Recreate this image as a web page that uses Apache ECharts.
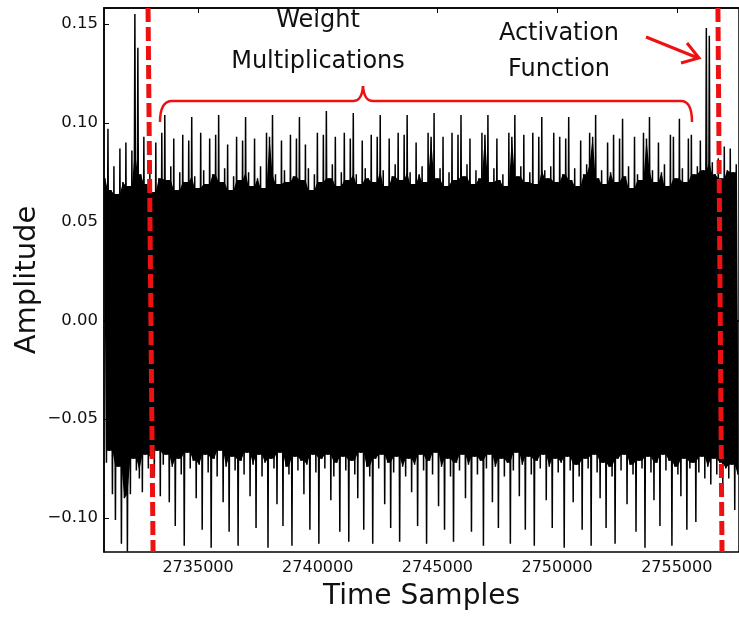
<!DOCTYPE html>
<html>
<head>
<meta charset="utf-8">
<script src="https://cdn.jsdelivr.net/npm/echarts@6/dist/echarts.min.js"></script>
<style>html,body{margin:0;padding:0;background:#fff;}#c{width:739px;height:617px;}</style>
</head>
<body>
<div id="c"></div>
<script>
// ---- data ----
// sampling grid of the envelope columns
const sampleStart = 2731110;
const sampleStep = 125;
// upper extreme of the trace in each column
const upperValues = [
0.072,0.097,0.066,0.078,0.064,0.087,0.070,0.090,0.068,0.086,
0.155,0.138,0.074,0.093,0.069,0.076,0.065,0.090,0.072,0.095,
0.104,0.071,0.078,0.092,0.066,0.075,0.094,0.070,0.091,0.103,
0.073,0.067,0.095,0.076,0.069,0.092,0.074,0.094,0.104,0.070,
0.077,0.089,0.066,0.073,0.093,0.071,0.091,0.103,0.075,0.068,
0.092,0.072,0.078,0.067,0.095,0.093,0.104,0.074,0.069,0.091,
0.076,0.070,0.094,0.073,0.092,0.103,0.071,0.089,0.077,0.066,
0.074,0.095,0.070,0.094,0.106,0.072,0.079,0.093,0.068,0.075,
0.095,0.071,0.092,0.105,0.074,0.069,0.091,0.077,0.072,0.094,
0.070,0.093,0.104,0.076,0.068,0.092,0.073,0.079,0.095,0.071,
0.094,0.104,0.075,0.069,0.090,0.074,0.078,0.070,0.095,0.093,
0.105,0.072,0.077,0.093,0.068,0.075,0.095,0.071,0.094,0.104,
0.073,0.079,0.092,0.069,0.076,0.072,0.095,0.094,0.104,0.070,
0.077,0.092,0.071,0.074,0.068,0.095,0.093,0.104,0.073,0.078,
0.094,0.070,0.075,0.095,0.069,0.093,0.103,0.076,0.072,0.078,
0.095,0.070,0.093,0.074,0.092,0.103,0.071,0.077,0.068,0.091,
0.074,0.079,0.095,0.093,0.104,0.072,0.076,0.069,0.090,0.075,
0.094,0.070,0.092,0.102,0.073,0.078,0.067,0.093,0.074,0.071,
0.095,0.092,0.103,0.076,0.070,0.090,0.075,0.079,0.068,0.094,
0.093,0.072,0.102,0.077,0.070,0.092,0.094,0.074,0.078,0.091,
0.076,0.148,0.144,0.080,0.074,0.082,0.072,0.088,0.076,0.087,
0.075,0.079
];
// lower extreme of the trace in each column
const lowerValues = [
-0.072,-0.066,-0.088,-0.101,-0.074,-0.113,-0.090,-0.117,-0.088,-0.070,
-0.076,-0.080,-0.087,-0.068,-0.075,-0.070,-0.079,-0.066,-0.089,-0.073,
-0.068,-0.092,-0.074,-0.104,-0.070,-0.078,-0.114,-0.067,-0.075,-0.071,
-0.090,-0.073,-0.106,-0.068,-0.077,-0.115,-0.070,-0.079,-0.066,-0.092,
-0.074,-0.107,-0.069,-0.076,-0.114,-0.071,-0.078,-0.067,-0.089,-0.073,
-0.105,-0.068,-0.079,-0.072,-0.115,-0.070,-0.075,-0.093,-0.067,-0.104,
-0.074,-0.078,-0.114,-0.069,-0.076,-0.071,-0.088,-0.073,-0.106,-0.068,
-0.077,-0.113,-0.070,-0.075,-0.068,-0.091,-0.079,-0.072,-0.107,-0.069,
-0.076,-0.112,-0.071,-0.078,-0.090,-0.067,-0.106,-0.074,-0.079,-0.113,
-0.070,-0.075,-0.068,-0.093,-0.072,-0.105,-0.077,-0.069,-0.112,-0.074,
-0.079,-0.070,-0.087,-0.073,-0.104,-0.068,-0.076,-0.113,-0.071,-0.078,
-0.067,-0.094,-0.074,-0.106,-0.070,-0.079,-0.112,-0.072,-0.076,-0.068,
-0.090,-0.073,-0.107,-0.069,-0.078,-0.071,-0.114,-0.075,-0.068,-0.092,
-0.074,-0.105,-0.070,-0.079,-0.072,-0.113,-0.076,-0.067,-0.089,-0.073,
-0.106,-0.069,-0.078,-0.114,-0.071,-0.075,-0.068,-0.091,-0.074,-0.105,
-0.070,-0.077,-0.072,-0.115,-0.069,-0.076,-0.092,-0.073,-0.079,-0.106,
-0.070,-0.075,-0.114,-0.068,-0.077,-0.090,-0.072,-0.105,-0.074,-0.079,
-0.113,-0.070,-0.076,-0.068,-0.093,-0.073,-0.078,-0.107,-0.071,-0.075,
-0.115,-0.069,-0.077,-0.091,-0.072,-0.104,-0.068,-0.076,-0.071,-0.114,
-0.074,-0.078,-0.089,-0.070,-0.106,-0.075,-0.072,-0.102,-0.077,-0.069,
-0.080,-0.074,-0.083,-0.070,-0.078,-0.072,-0.086,-0.075,-0.080,-0.073,
-0.096,-0.078
];
// tick labels
const xTicks = [2735000, 2740000, 2745000, 2750000, 2755000];
const yTicks = [-0.10, -0.05, 0.00, 0.05, 0.10, 0.15];
// dashed boundary lines: [time at top, time at bottom]
const boundaryStart = [2732910, 2733120];
const boundaryEnd = [2756720, 2756890];
// axis ranges
const xRange = [2731070, 2757600];
const yRange = [-0.1172, 0.1581];

// ---- build ----
const n = upperValues.length;
const trace = [], coreTop = [], coreBottom = [];
for (let i = 0; i < n; i++) {
  const t = sampleStart + i * sampleStep;
  trace.push([t, upperValues[i]]);
  trace.push([t + sampleStep / 2, lowerValues[i]]);
  // solid body of the trace: what every neighbouring column covers
  const a = Math.max(0, i - 1), b = Math.min(n - 1, i + 1);
  coreTop.push([t, Math.min(upperValues[a], upperValues[i], upperValues[b])]);
  coreBottom.push([t + sampleStep / 2, Math.max(lowerValues[a], lowerValues[i], lowerValues[b])]);
}
const font = "'DejaVu Sans', 'Liberation Sans', sans-serif";
const red = '#ee1111';
const chart = echarts.init(document.getElementById('c'), null, {renderer: 'canvas'});
const fmtY = v => (v < 0 ? '\u2212' : '') + Math.abs(v).toFixed(2);
const boundarySeries = (b) => ({
  type: 'line', data: [[b[0], yRange[1]], [b[1], yRange[0]]],
  symbol: 'none', silent: true, z: 5,
  lineStyle: {color: red, width: 5, type: [14, 5]}
});
const coreSeries = (d) => ({
  type: 'line', data: d, symbol: 'none', sampling: false, silent: true, z: 1,
  lineStyle: {width: 0, color: '#000'}, areaStyle: {color: '#000', opacity: 1, origin: 0}
});
const braceStyle = {fill: 'none', stroke: red, lineWidth: 2.5};
const txt = (text, x, y) => ({type: 'text', z: 10, style: {text, x, y, align: 'center', verticalAlign: 'middle', font: '24px ' + font, fill: '#111'}});
chart.setOption({
  animation: false,
  backgroundColor: '#fff',
  grid: {left: 104, top: 8, right: 0, bottom: 65, show: true, borderColor: '#000', borderWidth: 1.5,
    containLabel: false, outerBoundsMode: 'none'},
  xAxis: [{
    type: 'value', min: xRange[0], max: xRange[1],
    name: 'Time Samples', nameLocation: 'middle', nameGap: 31, nameMoveOverlap: false,
    nameTextStyle: {fontFamily: font, fontSize: 28, color: '#111'},
    axisLine: {show: true, lineStyle: {color: '#000', width: 1.5}},
    axisTick: {show: true, inside: true, length: 5, customValues: xTicks, lineStyle: {color: '#000'}},
    axisLabel: {customValues: xTicks, fontFamily: font, fontSize: 16, color: '#111', margin: 8,
      formatter: v => String(Math.round(v))},
    splitLine: {show: false}
  }, {
    type: 'value', position: 'top', min: xRange[0], max: xRange[1],
    axisLine: {show: true, lineStyle: {color: '#000', width: 1.5}},
    axisTick: {show: true, inside: true, length: 5, customValues: xTicks, lineStyle: {color: '#000'}},
    axisLabel: {show: false}, splitLine: {show: false}
  }],
  yAxis: {
    type: 'value', min: yRange[0], max: yRange[1],
    name: 'Amplitude', nameLocation: 'middle', nameGap: 62, nameRotate: 90, nameMoveOverlap: false,
    nameTextStyle: {fontFamily: font, fontSize: 29, color: '#111'},
    axisLine: {show: true, lineStyle: {color: '#000', width: 1.5}},
    axisTick: {show: true, inside: true, length: 5, customValues: yTicks, lineStyle: {color: '#000'}},
    axisLabel: {customValues: yTicks, fontFamily: font, fontSize: 16.5, color: '#111', margin: 6, formatter: fmtY},
    splitLine: {show: false}
  },
  series: [coreSeries(coreTop), coreSeries(coreBottom), {
    type: 'line', data: trace, symbol: 'none', sampling: false, silent: true, z: 2,
    lineStyle: {color: '#000', width: 1.5, join: 'miter'}
  }, boundarySeries(boundaryStart), boundarySeries(boundaryEnd)],
  graphic: [
    txt('Weight', 318, 21),
    txt('Multiplications', 318, 62),
    txt('Activation', 559, 34),
    txt('Function', 559, 70),
    {type: 'bezierCurve', z: 10, shape: {x1: 160, y1: 122, cpx1: 160, cpy1: 101, x2: 172, y2: 101}, style: braceStyle},
    {type: 'line', z: 10, shape: {x1: 172, y1: 101, x2: 353, y2: 101}, style: braceStyle},
    {type: 'bezierCurve', z: 10, shape: {x1: 353, y1: 101, cpx1: 362, cpy1: 101, x2: 363, y2: 86}, style: braceStyle},
    {type: 'bezierCurve', z: 10, shape: {x1: 363, y1: 86, cpx1: 364, cpy1: 101, x2: 373, y2: 101}, style: braceStyle},
    {type: 'line', z: 10, shape: {x1: 373, y1: 101, x2: 681, y2: 101}, style: braceStyle},
    {type: 'bezierCurve', z: 10, shape: {x1: 681, y1: 101, cpx1: 692, cpy1: 101, x2: 692, y2: 122}, style: braceStyle},
    {type: 'line', z: 10, shape: {x1: 646, y1: 37, x2: 698, y2: 58}, style: {stroke: red, lineWidth: 3}},
    {type: 'polyline', z: 10, shape: {points: [[687, 43], [699, 58], [681, 63]]}, style: {stroke: red, lineWidth: 3, fill: 'none'}}
  ]
});
</script>
</body>
</html>
